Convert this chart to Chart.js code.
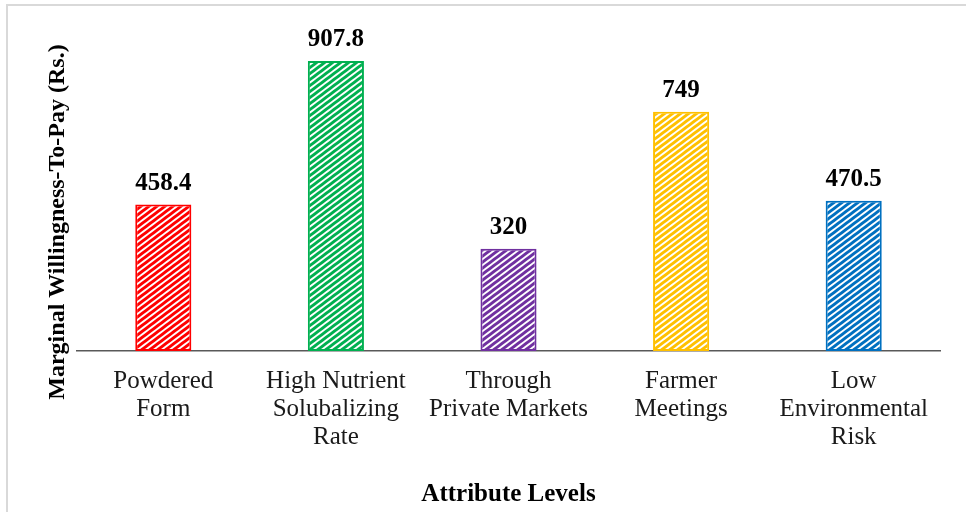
<!DOCTYPE html>
<html>
<head>
<meta charset="utf-8">
<script src="https://cdn.jsdelivr.net/npm/chart.js@4/dist/chart.umd.min.js"></script>
<style>
  html, body { margin: 0; padding: 0; background: #ffffff; }
  #wrap { width: 966px; height: 512px; position: relative; }
</style>
</head>
<body>
<div id="wrap"><canvas id="chart" width="966" height="512"></canvas></div>
<script>
// Attribute levels and their marginal willingness-to-pay (Rs.)
const categories = [
  ["Powdered", "Form"],
  ["High Nutrient", "Solubalizing", "Rate"],
  ["Through", "Private Markets"],
  ["Farmer", "Meetings"],
  ["Low", "Environmental", "Risk"]
];
const wtpValues = [458.4, 907.8, 320, 749, 470.5];
const valueLabels = ["458.4", "907.8", "320", "749", "470.5"];
const barColors = ["#FF0000", "#00B050", "#7030A0", "#FFC000", "#0070C0"];

const SERIF = "'Liberation Serif', serif";

// Wide upward-diagonal hatch fill in the given colour
function hatch(color) {
  const w = 8, h = 6;
  const c = document.createElement('canvas');
  c.width = w; c.height = h;
  const g = c.getContext('2d');
  g.fillStyle = '#ffffff';
  g.fillRect(0, 0, w, h);
  g.strokeStyle = color;
  g.lineWidth = 3;
  [-h, 0, h].forEach(off => {
    g.beginPath();
    g.moveTo(-w, h + off + h);
    g.lineTo(2 * w, off - h);
    g.stroke();
  });
  return g.createPattern(c, 'repeat');
}

// Light grey frame around the whole figure
const framePlugin = {
  id: 'frame',
  beforeDraw(chart) {
    const ctx = chart.ctx;
    ctx.save();
    ctx.strokeStyle = '#d9d9d9';
    ctx.lineWidth = 2;
    ctx.strokeRect(7, 5, 990, 540);
    ctx.restore();
  }
};

// Value printed above each bar
const valueLabelPlugin = {
  id: 'valueLabels',
  afterDatasetsDraw(chart) {
    const ctx = chart.ctx;
    const meta = chart.getDatasetMeta(0);
    ctx.save();
    ctx.font = "bold 25px " + SERIF;
    ctx.fillStyle = '#000000';
    ctx.textAlign = 'center';
    ctx.textBaseline = 'middle';
    meta.data.forEach((bar, i) => {
      ctx.fillText(valueLabels[i], bar.x, bar.y - 21);
    });
    ctx.restore();
  }
};

// Rotated y-axis title
const yTitlePlugin = {
  id: 'yTitle',
  afterDraw(chart) {
    const ctx = chart.ctx;
    ctx.save();
    ctx.translate(58, 222);
    ctx.rotate(-Math.PI / 2);
    ctx.font = "bold 24px " + SERIF;
    ctx.fillStyle = '#000000';
    ctx.textAlign = 'center';
    ctx.textBaseline = 'middle';
    ctx.fillText("Marginal Willingness-To-Pay (Rs.)", 0, 0);
    ctx.restore();
  }
};

new Chart(document.getElementById('chart'), {
  type: 'bar',
  data: {
    labels: categories,
    datasets: [{
      data: wtpValues,
      backgroundColor: barColors.map(hatch),
      borderColor: barColors,
      borderWidth: 2,
      borderSkipped: false,
      categoryPercentage: 1,
      barPercentage: 0.325
    }]
  },
  options: {
    responsive: false,
    animation: false,
    devicePixelRatio: 1,
    font: { family: SERIF },
    layout: { padding: { left: 0, right: 26, top: 31.5, bottom: 0 } },
    plugins: {
      legend: { display: false },
      tooltip: { enabled: false }
    },
    scales: {
      x: {
        grid: { display: false, drawTicks: false },
        border: { display: true, color: '#595959', width: 1.4 },
        ticks: {
          padding: 16,
          color: '#1a1a1a',
          font: { family: SERIF, size: 25, lineHeight: 1.12 },
          maxRotation: 0,
          autoSkip: false
        },
        title: {
          display: true,
          text: 'Attribute Levels',
          color: '#000000',
          font: { family: SERIF, size: 25, weight: 'bold' },
          padding: { top: 0, bottom: 2 }
        },
        afterFit(scale) { scale.height = 161; }
      },
      y: {
        min: 0,
        max: 1000,
        grid: { display: false, drawTicks: false },
        border: { display: false },
        ticks: { display: false },
        afterFit(scale) { scale.width = 77; }
      }
    }
  },
  plugins: [framePlugin, valueLabelPlugin, yTitlePlugin]
});
</script>
</body>
</html>
